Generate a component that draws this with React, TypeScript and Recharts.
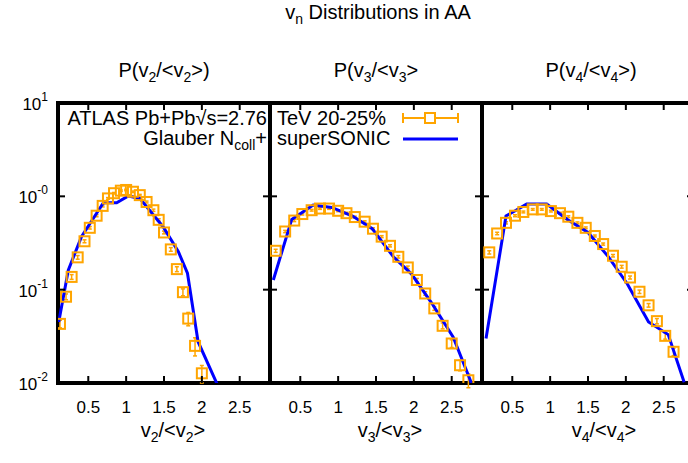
import React from 'react'
import {
  ComposedChart,
  Line,
  Scatter,
  ErrorBar,
  XAxis,
  YAxis,
  ReferenceArea,
} from 'recharts'

// ATLAS 20-25% points and superSONIC curves
const v2DataX = [0.126, 0.206, 0.28, 0.36, 0.45, 0.52, 0.61, 0.69, 0.76, 0.84, 0.93, 1.0, 1.09, 1.18, 1.27, 1.36, 1.43, 1.5, 1.59, 1.67, 1.75, 1.82, 1.91, 2.0]
const v2DataY = [0.043, 0.084, 0.137, 0.222, 0.33, 0.46, 0.62, 0.79, 0.95, 1.08, 1.15, 1.17, 1.12, 1.03, 0.87, 0.71, 0.56, 0.41, 0.27, 0.166, 0.094, 0.049, 0.025, 0.0127]
const v2DataErr = [0.004, 0.006, 0.008, 0.01, 0.012, 0.014, 0.016, 0.02, 0.02, 0.02, 0.02, 0.02, 0.02, 0.02, 0.02, 0.02, 0.016, 0.014, 0.012, 0.01, 0.008, 0.008, 0.0055, 0.0027]
const v2ModelX = [0.11, 0.236, 0.41, 0.7, 0.875, 1.03, 1.18, 1.49, 1.69, 1.81, 1.95, 2.2]
const v2ModelY = [0.045, 0.162, 0.37, 0.855, 0.855, 1.01, 0.95, 0.47, 0.255, 0.15, 0.0277, 0.0098]

const v3DataX = [0.175, 0.3, 0.42, 0.527, 0.65, 0.76, 0.88, 1.0, 1.11, 1.22, 1.35, 1.46, 1.575, 1.685, 1.795, 1.92, 2.04, 2.15, 2.27, 2.38, 2.5, 2.61, 2.72]
const v3DataY = [0.261, 0.42, 0.55, 0.646, 0.71, 0.74, 0.74, 0.7, 0.66, 0.6, 0.535, 0.45, 0.37, 0.295, 0.225, 0.173, 0.127, 0.091, 0.063, 0.041, 0.0265, 0.0155, 0.0107]
const v3DataErr = [0.01, 0.012, 0.014, 0.015, 0.015, 0.015, 0.015, 0.015, 0.015, 0.014, 0.012, 0.01, 0.009, 0.008, 0.007, 0.006, 0.005, 0.004, 0.003, 0.003, 0.0025, 0.002, 0.0018]
const v3ModelX = [0.144, 0.387, 0.67, 0.915, 1.19, 1.45, 1.73, 1.97, 2.24, 2.52, 2.76]
const v3ModelY = [0.127, 0.566, 0.807, 0.76, 0.615, 0.45, 0.225, 0.147, 0.071, 0.031, 0.01]

const v4DataX = [0.196, 0.3, 0.417, 0.536, 0.646, 0.77, 0.89, 1.01, 1.13, 1.24, 1.36, 1.47, 1.59, 1.7, 1.83, 1.945, 2.055, 2.18, 2.3, 2.41, 2.52, 2.63]
const v4DataY = [0.251, 0.4, 0.52, 0.62, 0.68, 0.725, 0.725, 0.695, 0.66, 0.605, 0.52, 0.46, 0.376, 0.308, 0.231, 0.176, 0.135, 0.095, 0.068, 0.046, 0.032, 0.0216]
const v4DataErr = [0.01, 0.012, 0.014, 0.015, 0.015, 0.015, 0.015, 0.015, 0.015, 0.014, 0.012, 0.01, 0.009, 0.008, 0.007, 0.006, 0.005, 0.004, 0.003, 0.003, 0.0025, 0.002]
const v4ModelX = [0.153, 0.417, 0.69, 0.955, 1.227, 1.5, 1.77, 2.02, 2.3, 2.56, 2.77]
const v4ModelY = [0.03, 0.615, 0.826, 0.826, 0.566, 0.41, 0.225, 0.115, 0.045, 0.033, 0.0102]

const xTicks = [0.5, 1, 1.5, 2, 2.5]
const yTicks = [10, 1, 0.1, 0.01]
const yTickExp = ['1', '-0', '-1', '-2']

const ORANGE = '#ffa500'
const BLUE = '#0000ff'
const FONT = '"Liberation Sans", Arial, Helvetica, sans-serif'
const PLOT_W = 212
const PLOT_H = 280

const zip = (xs: number[], ys: number[], errs?: number[]) =>
  xs.map((x, i) => ({ x, y: ys[i], err: errs ? errs[i] : 0 }))

const XTick = ({ x, y, payload }: any) => (
  <g>
    <line x1={x} y1={y} x2={x} y2={y - 7} stroke="#000" strokeWidth={2} />
    <line x1={x} y1={y - PLOT_H} x2={x} y2={y - PLOT_H + 7} stroke="#000" strokeWidth={2} />
    <text x={x} y={y + 30} textAnchor="middle" fontSize={17} fontFamily={FONT} fill="#000">
      {payload.value}
    </text>
  </g>
)

const makeYTick = (showLabel: boolean) => ({ x, y, payload }: any) => {
  const idx = yTicks.indexOf(payload.value)
  return (
    <g>
      <line x1={x} y1={y} x2={x + 7} y2={y} stroke="#000" strokeWidth={2} />
      <line x1={x + PLOT_W - 7} y1={y} x2={x + PLOT_W} y2={y} stroke="#000" strokeWidth={2} />
      {showLabel && (
        <text x={x - 10} y={y + 7} textAnchor="end" fontFamily={FONT} fill="#000">
          <tspan fontSize={17}>10</tspan>
          <tspan fontSize={12} dy={-9}>{yTickExp[idx]}</tspan>
        </text>
      )}
    </g>
  )
}

const Square = ({ cx, cy }: any) => (
  <rect x={cx - 5} y={cy - 5} width={10} height={10} fill="none" stroke={ORANGE} strokeWidth={2} />
)

interface PanelProps {
  left: number
  width: number
  yAxisWidth: number
  showYLabels: boolean
  points: Array<{ x: number; y: number; err: number }>
  model: Array<{ x: number; y: number; err: number }>
}

const Panel = ({ left, width, yAxisWidth, showYLabels, points, model }: PanelProps) => (
  <div style={{ position: 'absolute', left, top: 0 }}>
    <ComposedChart width={width} height={463} margin={{ top: 103, right: 10, bottom: 0, left: 0 }}>
      <XAxis
        dataKey="x"
        type="number"
        domain={[0.1, 2.9]}
        ticks={xTicks}
        interval={0}
        allowDataOverflow
        axisLine={false}
        tickLine={false}
        tickSize={0}
        tickMargin={0}
        height={80}
        tick={<XTick />}
      />
      <YAxis
        dataKey="y"
        type="number"
        scale="log"
        domain={[0.01, 10]}
        ticks={yTicks}
        interval={0}
        allowDataOverflow
        axisLine={false}
        tickLine={false}
        tickSize={0}
        tickMargin={0}
        width={yAxisWidth}
        tick={makeYTick(showYLabels)}
      />
      <Scatter data={points} shape={<Square />} isAnimationActive={false}>
        <ErrorBar dataKey="err" direction="y" stroke={ORANGE} strokeWidth={1.5} width={2} />
      </Scatter>
      <Line
        data={model}
        dataKey="y"
        stroke={BLUE}
        strokeWidth={3}
        dot={false}
        isAnimationActive={false}
      />
      <ReferenceArea x1={0.1} x2={2.9} y1={0.01} y2={10} fill="none" fillOpacity={0} stroke="#000" strokeWidth={4} />
    </ComposedChart>
  </div>
)

const Sub = ({ children }: { children: React.ReactNode }) => (
  <span style={{ fontSize: 14, position: 'relative', top: 5 }}>{children}</span>
)

const Txt = ({ style, children }: { style: React.CSSProperties; children: React.ReactNode }) => (
  <div
    style={{
      position: 'absolute',
      fontFamily: FONT,
      fontSize: 20,
      lineHeight: '24px',
      whiteSpace: 'nowrap',
      color: '#000',
      ...style,
    }}
  >
    {children}
  </div>
)

const Centered = ({ cx, top, children }: { cx: number; top: number; children: React.ReactNode }) => (
  <Txt style={{ left: cx - 120, width: 240, top, textAlign: 'center' }}>{children}</Txt>
)

export default function App() {
  return (
    <div
      style={{
        position: 'absolute',
        left: 0,
        top: 0,
        width: 688,
        height: 463,
        overflow: 'hidden',
        background: '#fff',
      }}
    >
      <Panel left={0} width={280} yAxisWidth={58} showYLabels points={zip(v2DataX, v2DataY, v2DataErr)} model={zip(v2ModelX, v2ModelY)} />
      <Panel left={260} width={232} yAxisWidth={10} showYLabels={false} points={zip(v3DataX, v3DataY, v3DataErr)} model={zip(v3ModelX, v3ModelY)} />
      <Panel left={472} width={232} yAxisWidth={10} showYLabels={false} points={zip(v4DataX, v4DataY, v4DataErr)} model={zip(v4ModelX, v4ModelY)} />

      <Centered cx={378} top={0} >
        <span style={{ lineHeight: '20px' }}>
          v<Sub>n</Sub> Distributions in AA
        </span>
      </Centered>
      <Centered cx={164} top={58}>
        P(v<Sub>2</Sub>/&lt;v<Sub>2</Sub>&gt;)
      </Centered>
      <Centered cx={376} top={58}>
        P(v<Sub>3</Sub>/&lt;v<Sub>3</Sub>&gt;
      </Centered>
      <Centered cx={591} top={58}>
        P(v<Sub>4</Sub>/&lt;v<Sub>4</Sub>&gt;)
      </Centered>

      <Centered cx={173} top={418}>
        v<Sub>2</Sub>/&lt;v<Sub>2</Sub>&gt;
      </Centered>
      <Centered cx={390} top={418}>
        v<Sub>3</Sub>/&lt;v<Sub>3</Sub>&gt;
      </Centered>
      <Centered cx={604} top={418}>
        v<Sub>4</Sub>/&lt;v<Sub>4</Sub>&gt;
      </Centered>

      <Txt style={{ right: 688 - 267, top: 106 }}>ATLAS Pb+Pb√s=2.76</Txt>
      <Txt style={{ right: 688 - 267, top: 126 }}>
        Glauber N<Sub>coll</Sub>+
      </Txt>
      <Txt style={{ left: 277, top: 106 }}>TeV 20-25%</Txt>
      <Txt style={{ left: 277, top: 126 }}>superSONIC</Txt>

      <svg style={{ position: 'absolute', left: 0, top: 0 }} width={688} height={463}>
        <line x1={403} y1={118} x2={458} y2={118} stroke={ORANGE} strokeWidth={2} />
        <line x1={403} y1={113} x2={403} y2={123} stroke={ORANGE} strokeWidth={2} />
        <line x1={458} y1={113} x2={458} y2={123} stroke={ORANGE} strokeWidth={2} />
        <rect x={425} y={113} width={10} height={10} fill="#fff" stroke={ORANGE} strokeWidth={2} />
        <line x1={403} y1={139} x2={458} y2={139} stroke={BLUE} strokeWidth={3} />
      </svg>
    </div>
  )
}
